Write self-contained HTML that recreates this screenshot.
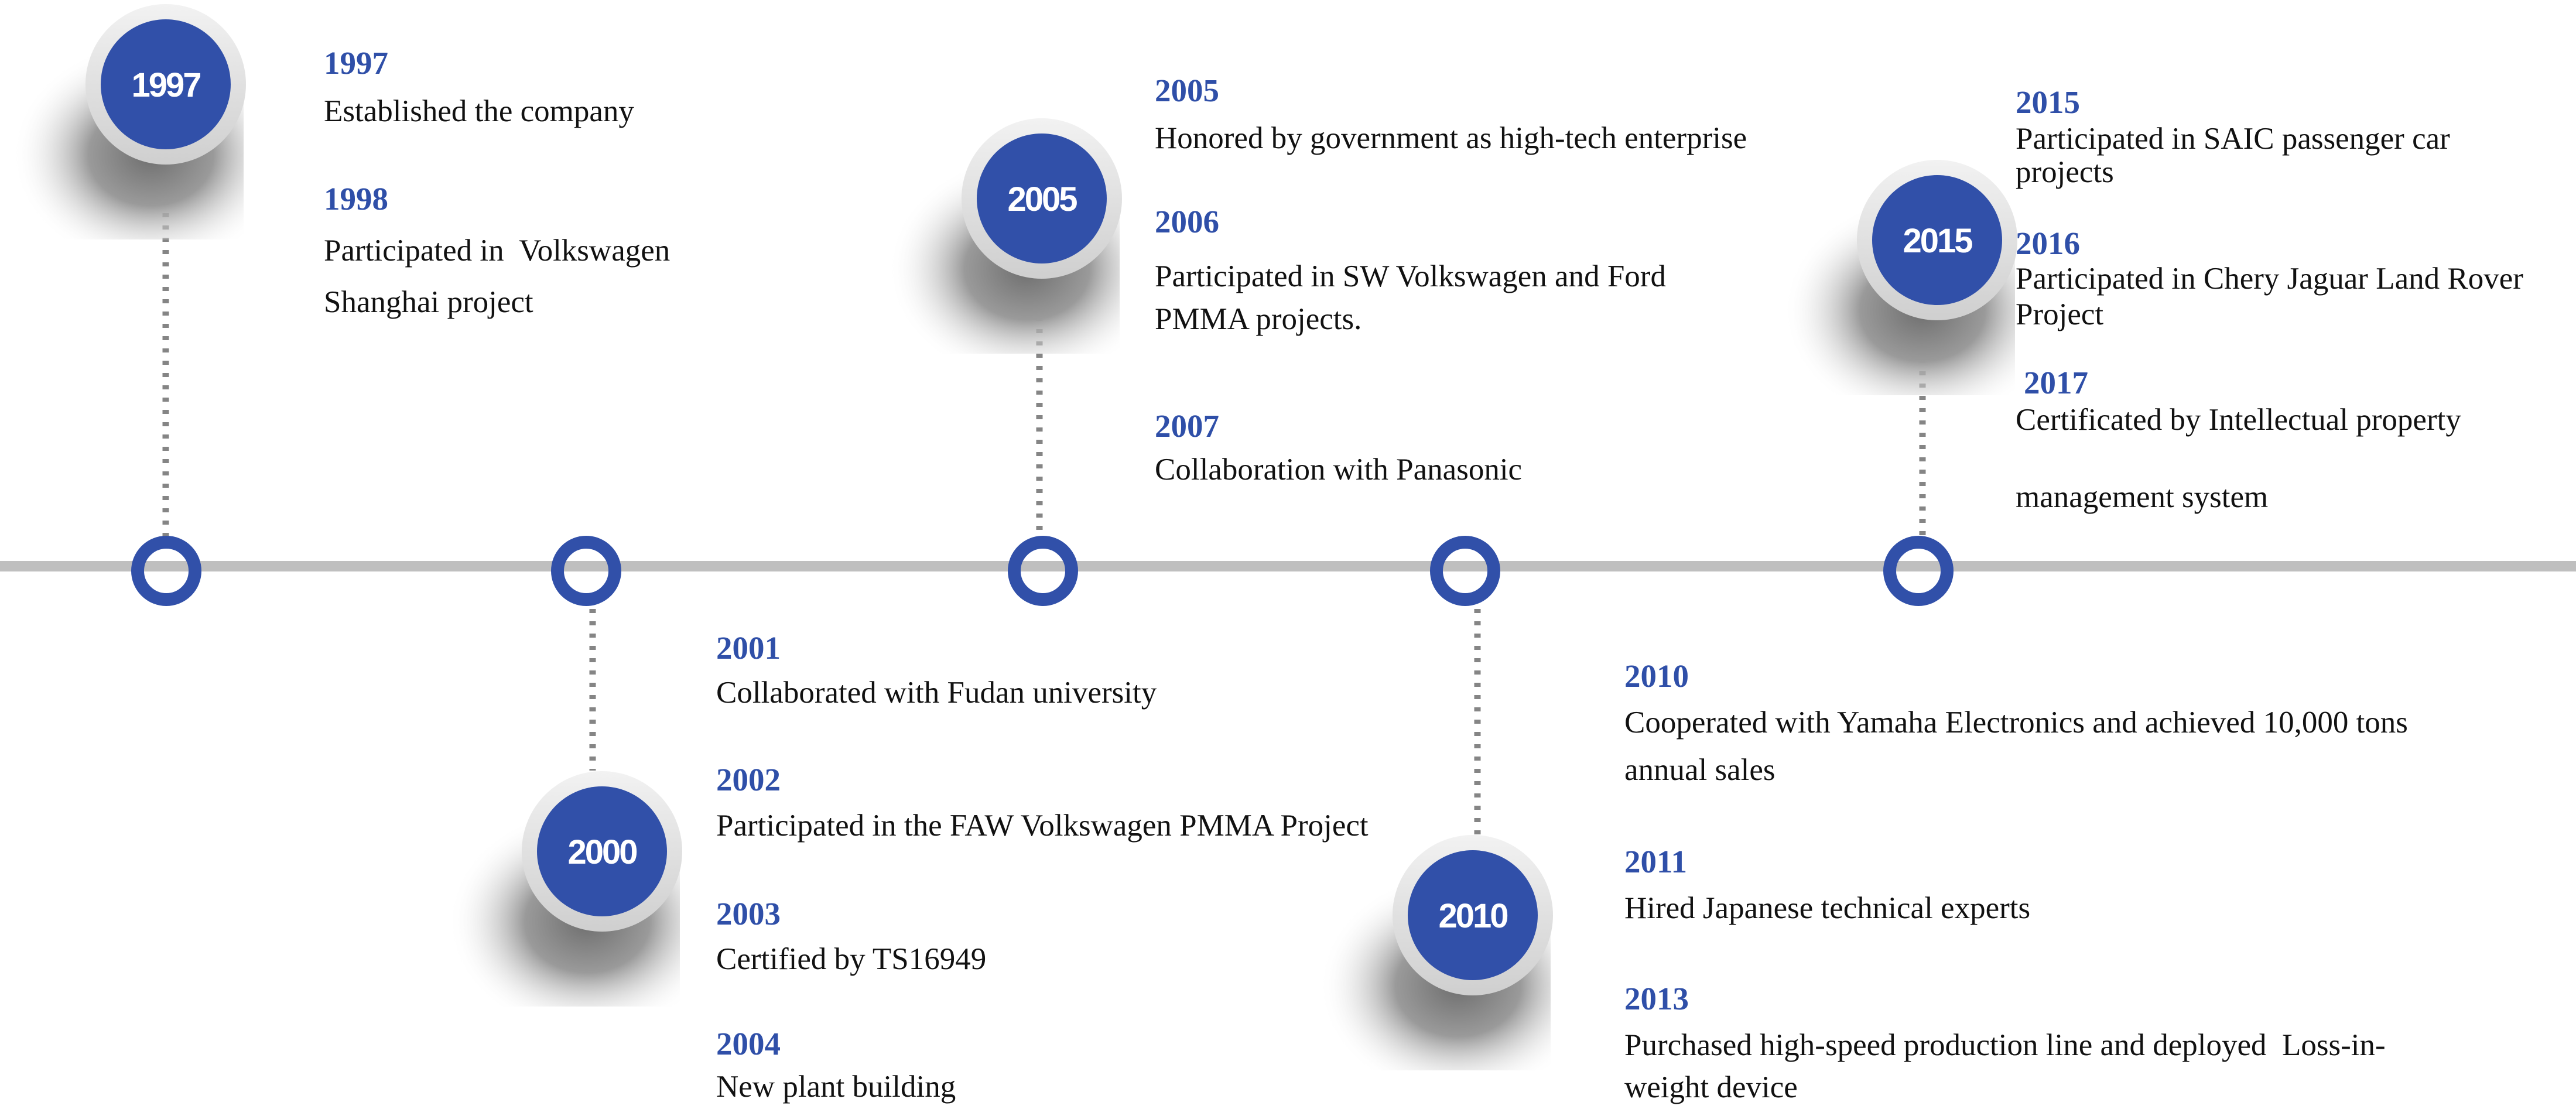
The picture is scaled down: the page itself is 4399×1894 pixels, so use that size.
<!DOCTYPE html>
<html><head><meta charset="utf-8"><style>
html,body{margin:0;padding:0;background:#fff;}
svg{display:block;}
.y{font-family:"Liberation Serif",serif;font-weight:bold;font-size:55px;fill:#2f4fa8;}
.t{font-family:"Liberation Serif",serif;font-size:53px;fill:#111;}
.c{font-family:"Liberation Sans",sans-serif;font-weight:bold;font-size:58px;fill:#fff;letter-spacing:-3px;}
</style></head><body>
<svg width="4399" height="1894" viewBox="0 0 4399 1894" xmlns="http://www.w3.org/2000/svg">
<defs>
<radialGradient id="sh" cx="0.6" cy="0.55" r="0.6">
<stop offset="0" stop-color="#6e6e6e"/>
<stop offset="0.45" stop-color="#9a9a9a"/>
<stop offset="1" stop-color="#ffffff" stop-opacity="0"/>
</radialGradient>
<linearGradient id="rim" x1="0" y1="0" x2="0" y2="1">
<stop offset="0" stop-color="#f2f2f2"/>
<stop offset="1" stop-color="#cfcfcf"/>
</linearGradient>
<g id="big">
<rect x="-262" y="-57" width="395" height="322" fill="url(#sh)"/>
<circle r="137" fill="url(#rim)"/>
<circle r="111" fill="#3150a9"/>
</g>
</defs>
<rect x="0" y="958" width="4399" height="18" fill="#bfbfbf"/>
<g stroke="#858585" stroke-width="11" stroke-dasharray="7 14">
<line x1="283" y1="280" x2="283" y2="930"/>
<line x1="1012" y1="1040" x2="1012" y2="1316"/>
<line x1="1775" y1="478" x2="1775" y2="920"/>
<line x1="2523" y1="1040" x2="2523" y2="1427"/>
<line x1="3283" y1="550" x2="3283" y2="920"/>
</g>
<g fill="none" stroke="#3150a9" stroke-width="22">
<circle cx="284" cy="975" r="49"/>
<circle cx="1001" cy="975" r="49"/>
<circle cx="1781" cy="975" r="49"/>
<circle cx="2502" cy="975" r="49"/>
<circle cx="3276" cy="975" r="49"/>
</g>
<use href="#big" x="283" y="144"/>
<use href="#big" x="1028" y="1454"/>
<use href="#big" x="1779" y="339"/>
<use href="#big" x="2515" y="1563"/>
<use href="#big" x="3308" y="410"/>
<g class="c" text-anchor="middle">
<text x="283" y="165">1997</text>
<text x="1028" y="1475">2000</text>
<text x="1779" y="360">2005</text>
<text x="2515" y="1584">2010</text>
<text x="3308" y="431">2015</text>
</g>
<text class="y" x="553" y="126">1997</text>
<text class="t" x="553" y="207">Established the company</text>
<text class="y" x="553" y="358">1998</text>
<text class="t" x="553" y="445" xml:space="preserve">Participated in  Volkswagen</text>
<text class="t" x="553" y="533">Shanghai project</text>
<text class="y" x="1972" y="173">2005</text>
<text class="t" x="1972" y="253">Honored by government as high-tech enterprise</text>
<text class="y" x="1972" y="397">2006</text>
<text class="t" x="1972" y="489">Participated in SW Volkswagen and Ford</text>
<text class="t" x="1972" y="562">PMMA projects.</text>
<text class="y" x="1972" y="746">2007</text>
<text class="t" x="1972" y="819">Collaboration with Panasonic</text>
<text class="y" x="3442" y="193">2015</text>
<text class="t" x="3442" y="254">Participated in SAIC passenger car</text>
<text class="t" x="3442" y="311">projects</text>
<text class="y" x="3442" y="434">2016</text>
<text class="t" x="3442" y="493">Participated in Chery Jaguar Land Rover</text>
<text class="t" x="3442" y="554">Project</text>
<text class="y" x="3456" y="672">2017</text>
<text class="t" x="3442" y="734">Certificated by Intellectual property</text>
<text class="t" x="3442" y="866">management system</text>
<text class="y" x="1223" y="1125">2001</text>
<text class="t" x="1223" y="1200">Collaborated with Fudan university</text>
<text class="y" x="1223" y="1350">2002</text>
<text class="t" x="1223" y="1427">Participated in the FAW Volkswagen PMMA Project</text>
<text class="y" x="1223" y="1579">2003</text>
<text class="t" x="1223" y="1655">Certified by TS16949</text>
<text class="y" x="1223" y="1801">2004</text>
<text class="t" x="1223" y="1873">New plant building</text>
<text class="y" x="2774" y="1173">2010</text>
<text class="t" x="2774" y="1251">Cooperated with Yamaha Electronics and achieved 10,000 tons</text>
<text class="t" x="2774" y="1332">annual sales</text>
<text class="y" x="2774" y="1490">2011</text>
<text class="t" x="2774" y="1568">Hired Japanese technical experts</text>
<text class="y" x="2774" y="1724">2013</text>
<text class="t" x="2774" y="1802" xml:space="preserve">Purchased high-speed production line and deployed  Loss-in-</text>
<text class="t" x="2774" y="1874">weight device</text>
</svg>
</body></html>
